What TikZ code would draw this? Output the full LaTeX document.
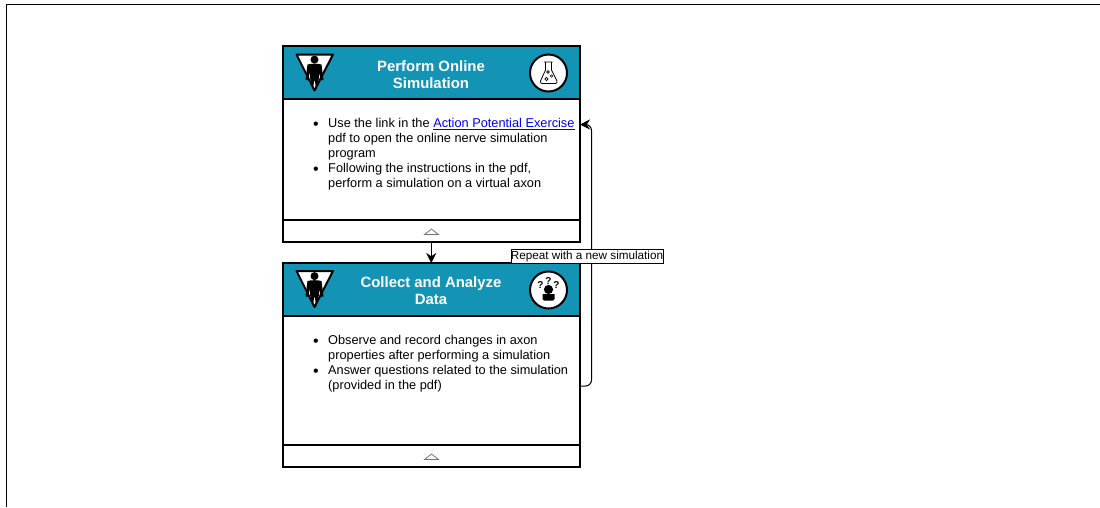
\documentclass[tikz,border=0pt]{standalone}
\usepackage{fontspec}
\setmainfont{Liberation Sans}
\usetikzlibrary{arrows.meta,calc}
\definecolor{headblue}{RGB}{20,148,181}
\definecolor{linkblue}{RGB}{0,0,238}
\tikzset{
  headbox/.style={draw=black,line width=2pt,fill=headblue,anchor=north west,inner sep=0pt,outer sep=0pt,minimum width=297.5pt},
  panelbox/.style={draw=black,line width=2pt,fill=white,anchor=north west,inner sep=0pt,outer sep=0pt,minimum width=297.5pt},
  titletext/.style={text=white,font=\fontsize{14.9}{17}\selectfont\bfseries,align=center,anchor=center,inner sep=0pt},
  bodytext/.style={font=\fontsize{12.77}{15}\selectfont,align=left,anchor=north west,inner sep=0pt},
  bulletmark/.style={font=\fontsize{16}{15}\selectfont,anchor=center,inner sep=0pt},
  flow/.style={draw=black,line width=1pt,-{Stealth[length=10pt,width=10pt]}},
  replabel/.style={draw=black,line width=0.7pt,fill=white,font=\fontsize{11.7}{13}\selectfont,inner sep=0pt,minimum height=14pt,minimum width=152pt},
  chevron/.style={draw=black!55,line width=0.8pt,fill=white},
  badge/.style={draw=black,line width=2pt,fill=white},
  role/.style={draw=black,line width=2pt,fill=white,line join=round},
}
\newcommand{\rolefigure}[2]{%
  \begin{scope}[shift={(#1,#2)}]
    \draw[role] (-18,-18.5) -- (18.5,-18.5) -- (0,17.5) -- cycle;
    \fill[black] (0,-13.4) circle (4);
    \fill[black] (-7,-8.5) .. controls (-3,-9.6) and (3,-9.6) .. (7,-8.5) -- (9,7) -- (6.5,7) -- (4.5,-1) -- (4.5,5) -- (1.5,17) -- (0.5,8) -- (-0.5,8) -- (-1.5,17) -- (-4.5,5) -- (-4.5,-1) -- (-6.5,7) -- (-9,7) -- cycle;
  \end{scope}}
\begin{document}
\begin{tikzpicture}[x=1pt,y=-1pt]
\useasboundingbox (0,0) rectangle (1100,507);
\fill[white] (0,0) rectangle (1100,507);
\draw[black,line width=1pt] (6.5,507) -- (6.5,4) -- (1100,4);

% first card
\node[headbox,minimum height=53pt] (head1) at (282.5,46) {};
\node[panelbox,minimum height=121pt] (body1) at (282.5,99) {};
\node[panelbox,minimum height=21.5pt] (foot1) at (282.5,220) {};
\node[titletext] (title1) at (431,74.5) {Perform Online\\Simulation};
\rolefigure{314.5}{73}
\node[badge,circle,minimum size=37pt,inner sep=0pt] (badge1) at (548.5,73) {};
\begin{scope}[shift={(548.5,73)}]
  \draw[black,line width=0.8pt,line join=round] (-4.5,-11) -- (4,-11) (-3,-11) -- (-3,-3) -- (-8,8) .. controls (-8.5,10) and (-7.5,10.5) .. (-6,10.5) -- (6.5,10.5) .. controls (8,10.5) and (9,10) .. (8.5,8) -- (3,-3) -- (3,-11);
  \draw[black,line width=0.6pt] (-0.5,-1) circle (1.4) (3,3) circle (1.2) (-2,6) circle (1.6);
\end{scope}
\node[bulletmark] (dot11) at (316,125.5) {•};
\node[bodytext] (text11) at (328,118.2) {Use the link in the {\color{linkblue}\underline{Action Potential Exercise}}\\pdf to open the online nerve simulation\\program};
\node[bulletmark] (dot12) at (316,170.5) {•};
\node[bodytext] (text12) at (328,163.2) {Following the instructions in the pdf,\\perform a simulation on a virtual axon};
\draw[chevron] (424.5,234.5) -- (431.5,229) -- (438.5,234.5) -- cycle;

% second card
\node[headbox,minimum height=53pt] (head2) at (282.5,263) {};
\node[panelbox,minimum height=129pt] (body2) at (282.5,316) {};
\node[panelbox,minimum height=22pt] (foot2) at (282.5,445) {};
\node[titletext] (title2) at (431,290.5) {Collect and Analyze\\Data};
\rolefigure{314.5}{289.5}
\node[badge,circle,minimum size=37pt,inner sep=0pt] (badge2) at (548.5,290) {};
\begin{scope}[shift={(548.5,290)}]
  \fill[black] (0,-0.5) circle (4.6);
  \fill[black] (-6,4) -- (6,4) -- (6,9) -- (4.5,10.5) -- (-4.5,10.5) -- (-6,9) -- cycle;
\end{scope}
\node[inner sep=0pt,font=\fontsize{10}{10}\selectfont\bfseries] (q1) at (540.5,285) {?};
\node[inner sep=0pt,font=\fontsize{10}{10}\selectfont\bfseries] (q2) at (548.5,281.5) {?};
\node[inner sep=0pt,font=\fontsize{10}{10}\selectfont\bfseries] (q3) at (556.5,285) {?};
\node[bulletmark] (dot21) at (316,342.5) {•};
\node[bodytext] (text21) at (328,335.2) {Observe and record changes in axon\\properties after performing a simulation};
\node[bulletmark] (dot22) at (316,372.5) {•};
\node[bodytext] (text22) at (328,365.2) {Answer questions related to the simulation\\(provided in the pdf)};
\draw[chevron] (424.5,459.5) -- (431.5,454) -- (438.5,459.5) -- cycle;

% connectors
\draw[flow] (foot1.south) -- (head2.north);
\coordinate (loopout) at (body2.east |- 0,386);
\coordinate (loopin) at (body1.east |- 0,124.5);
\draw[flow,rounded corners=6pt] (loopout) -- ++(11.5,0) |- (loopin);
\node[replabel] (rep) at (587,256) {\raisebox{-0.5pt}{Repeat with a new simulation}};
\end{tikzpicture}
\end{document}
